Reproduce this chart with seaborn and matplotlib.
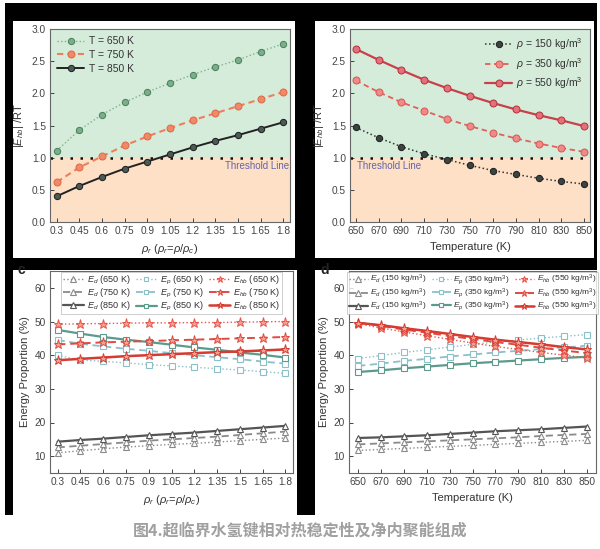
import numpy as np
import pandas as pd
import matplotlib
matplotlib.use("Agg")
import matplotlib.pyplot as plt
from matplotlib.patches import Rectangle
import seaborn as sns

# 데이터
rho_r = [0.3, 0.45, 0.6, 0.75, 0.9, 1.05, 1.2, 1.35, 1.5, 1.65, 1.8]
rho_r_ticks = ['0.3', '0.45', '0.6', '0.75', '0.9', '1.05', '1.2', '1.35', '1.5', '1.65', '1.8']
temps = [650, 670, 690, 710, 730, 750, 770, 790, 810, 830, 850]

# (a) |E_hb|/RT vs rho_r
a_650 = [1.11, 1.43, 1.67, 1.86, 2.02, 2.16, 2.29, 2.41, 2.52, 2.65, 2.77]
a_750 = [0.62, 0.85, 1.02, 1.19, 1.33, 1.46, 1.58, 1.69, 1.80, 1.91, 2.02]
a_850 = [0.40, 0.56, 0.70, 0.83, 0.94, 1.05, 1.16, 1.26, 1.35, 1.45, 1.55]

# (b) |E_hb|/RT vs T
b_150 = [1.47, 1.31, 1.17, 1.06, 0.97, 0.88, 0.80, 0.74, 0.68, 0.63, 0.59]
b_350 = [2.20, 2.02, 1.86, 1.73, 1.60, 1.49, 1.39, 1.30, 1.22, 1.15, 1.09]
b_550 = [2.69, 2.52, 2.36, 2.21, 2.08, 1.96, 1.85, 1.75, 1.66, 1.58, 1.49]

# (c) energy proportion vs rho_r
c_ed = {
    '650': [11.0, 11.6, 12.2, 12.7, 13.1, 13.5, 13.8, 14.2, 14.6, 15.0, 15.4],
    '750': [12.6, 13.1, 13.6, 14.1, 14.6, 15.0, 15.4, 15.8, 16.3, 16.8, 17.3],
    '850': [14.3, 14.8, 15.2, 15.7, 16.2, 16.6, 17.0, 17.5, 18.0, 18.5, 19.0],
}
c_ep = {
    '650': [40.0, 38.5, 38.2, 37.7, 37.2, 36.8, 36.4, 36.0, 35.6, 35.1, 34.6],
    '750': [44.5, 43.4, 42.6, 41.9, 41.3, 40.6, 40.0, 39.4, 38.8, 38.1, 37.5],
    '850': [47.5, 46.4, 45.4, 44.6, 43.9, 43.1, 42.3, 41.6, 40.8, 40.1, 39.3],
}
c_ehb = {
    '650': [49.2, 49.3, 49.4, 49.5, 49.6, 49.6, 49.7, 49.7, 49.8, 49.9, 50.0],
    '750': [43.2, 43.5, 43.8, 44.0, 44.2, 44.4, 44.6, 44.8, 45.0, 45.2, 45.4],
    '850': [38.5, 38.9, 39.3, 39.7, 40.0, 40.3, 40.6, 40.9, 41.1, 41.4, 41.7],
}

# (d) energy proportion vs T
d_ed = {
    '150': [11.7, 12.0, 12.3, 12.6, 12.9, 13.2, 13.5, 13.8, 14.1, 14.4, 14.7],
    '350': [13.5, 13.8, 14.1, 14.4, 14.7, 15.0, 15.3, 15.6, 16.0, 16.3, 16.6],
    '550': [15.4, 15.6, 15.9, 16.2, 16.6, 17.0, 17.4, 17.7, 18.0, 18.4, 18.8],
}
d_ep = {
    '150': [39.0, 39.9, 40.8, 41.6, 42.4, 43.2, 43.9, 44.5, 45.1, 45.6, 46.1],
    '350': [36.8, 37.5, 38.3, 38.9, 39.6, 40.2, 40.8, 41.3, 41.8, 42.3, 42.8],
    '550': [35.0, 35.5, 36.1, 36.6, 37.1, 37.6, 38.0, 38.4, 38.8, 39.2, 39.5],
}
d_ehb = {
    '150': [49.3, 48.1, 46.9, 45.8, 44.7, 43.6, 42.6, 41.7, 40.8, 40.0, 39.2],
    '350': [49.7, 48.7, 47.6, 46.7, 45.7, 44.8, 43.9, 43.1, 42.2, 41.4, 40.6],
    '550': [49.6, 48.9, 48.0, 47.2, 46.3, 45.4, 44.6, 43.9, 43.2, 42.4, 41.7],
}

caption = '图4.超临界水氢键相对热稳定性及净内聚能组成'

# 스타일
sns.set_style('ticks')
plt.rcParams['font.family'] = ['Liberation Sans', 'DejaVu Sans']
plt.rcParams['mathtext.fontset'] = 'custom'
plt.rcParams['mathtext.rm'] = 'Liberation Sans'
plt.rcParams['mathtext.it'] = 'Liberation Sans:italic'
plt.rcParams['text.color'] = '#333333'
plt.rcParams['axes.labelcolor'] = '#333333'
plt.rcParams['xtick.color'] = '#444444'
plt.rcParams['ytick.color'] = '#444444'

W, H = 600, 549
fig = plt.figure(figsize=(6.0, 5.49), dpi=100)
fig.patch.set_facecolor('white')


def px_rect(x0, y0, x1, y1):
    # pixel box (top-left origin) -> figure fraction [l, b, w, h]
    return [x0 / W, 1 - y1 / H, (x1 - x0) / W, (y1 - y0) / H]


def add_box(x0, y0, x1, y1, color, z):
    l, b, w, h = px_rect(x0, y0, x1, y1)
    fig.add_artist(Rectangle((l, b), w, h, transform=fig.transFigure,
                             facecolor=color, edgecolor='none', zorder=z))


# 검은 테두리 + 흰 패널
add_box(5, 3, 597, 515, 'black', -10)
add_box(13, 21, 295, 258, 'white', -9)
add_box(315, 21, 594, 258, 'white', -9)
add_box(13, 270, 297, 515, 'white', -9)
add_box(315, 270, 597, 515, 'white', -9)

ax_a = fig.add_axes(px_rect(50, 29, 290, 222))
ax_b = fig.add_axes(px_rect(350, 29, 590, 222))
ax_c = fig.add_axes(px_rect(50, 271, 293, 473))
ax_d = fig.add_axes(px_rect(349, 271, 596, 473))

for ax in [ax_a, ax_b, ax_c, ax_d]:
    for s in ax.spines.values():
        s.set_color('#666666')
        s.set_linewidth(0.8)
    ax.tick_params(direction='in', length=3, width=0.7, labelsize=7.3, pad=3)

green_bg = '#d5ecda'
peach_bg = '#fde0c6'
thr_col = '#6464a8'

# (a)
ax_a.axhspan(1.0, 3.0, color=green_bg, zorder=0, lw=0)
ax_a.axhspan(0.0, 1.0, color=peach_bg, zorder=0, lw=0)
sns.lineplot(x=rho_r, y=a_650, ax=ax_a, color='#7cb38c', linestyle=':', lw=1.0,
             marker='o', markersize=4.5, markerfacecolor='#79b08a', markeredgecolor='#4f8060',
             label='T = 650 K')
sns.lineplot(x=rho_r, y=a_750, ax=ax_a, color='#ef7e5c', linestyle=(0, (3, 2)), lw=1.5,
             marker='o', markersize=5, markerfacecolor='#f08a66', markeredgecolor='#e06a48',
             label='T = 750 K')
sns.lineplot(x=rho_r, y=a_850, ax=ax_a, color='#222222', linestyle='-', lw=1.4,
             marker='o', markersize=4.5, markerfacecolor='#4a5a55', markeredgecolor='#222222',
             label='T = 850 K')
ax_a.axhline(1.0, color='#111111', linestyle=(0, (1, 3)), lw=1.8, zorder=1)
ax_a.text(1.84, 0.95, 'Threshold Line', color=thr_col, fontsize=7, ha='right', va='top')
ax_a.set_xlim(0.255, 1.845)
ax_a.set_ylim(0, 3.0)
ax_a.set_xticks(rho_r)
ax_a.set_xticklabels(rho_r_ticks)
ax_a.set_yticks([0.0, 0.5, 1.0, 1.5, 2.0, 2.5, 3.0])
ax_a.set_yticklabels(['0.0', '0.5', '1.0', '1.5', '2.0', '2.5', '3.0'])
ax_a.set_xlabel(r'$\rho_r$ ($\rho_r$=$\rho$/$\rho_c$)', fontsize=8, labelpad=4)
ax_a.set_ylabel(r'$|E_{hb}|$ /RT', fontsize=8, labelpad=4)
ax_a.legend(loc='upper left', frameon=False, fontsize=7.5, handlelength=2.6,
            borderaxespad=0.3, labelspacing=0.35, handletextpad=0.4)

# (b)
ax_b.axhspan(1.0, 3.0, color=green_bg, zorder=0, lw=0)
ax_b.axhspan(0.0, 1.0, color=peach_bg, zorder=0, lw=0)
sns.lineplot(x=temps, y=b_150, ax=ax_b, color='#333333', linestyle=':', lw=1.1,
             marker='o', markersize=4.5, markerfacecolor='#3a4440', markeredgecolor='#222222',
             label=r'$\rho$ = 150 kg/m$^3$')
sns.lineplot(x=temps, y=b_350, ax=ax_b, color='#e0605e', linestyle=(0, (3, 2)), lw=1.3,
             marker='o', markersize=5, markerfacecolor='#f08a86', markeredgecolor='#d85a58',
             label=r'$\rho$ = 350 kg/m$^3$')
sns.lineplot(x=temps, y=b_550, ax=ax_b, color='#c8404a', linestyle='-', lw=1.6,
             marker='o', markersize=5, markerfacecolor='#e4707a', markeredgecolor='#b83440',
             label=r'$\rho$ = 550 kg/m$^3$')
ax_b.axhline(1.0, color='#111111', linestyle=(0, (1, 3)), lw=1.8, zorder=1)
ax_b.text(651, 0.95, 'Threshold Line', color=thr_col, fontsize=7, ha='left', va='top')
ax_b.set_xlim(645, 855)
ax_b.set_ylim(0, 3.0)
ax_b.set_xticks(temps)
ax_b.set_yticks([0.0, 0.5, 1.0, 1.5, 2.0, 2.5, 3.0])
ax_b.set_yticklabels(['0.0', '0.5', '1.0', '1.5', '2.0', '2.5', '3.0'])
ax_b.set_xlabel('Temperature (K)', fontsize=8, labelpad=4)
ax_b.set_ylabel(r'$|E_{hb}|$ /RT', fontsize=8, labelpad=4)
ax_b.legend(loc='upper right', frameon=False, fontsize=7.5, handlelength=2.6,
            borderaxespad=0.3, labelspacing=0.35, handletextpad=0.4)

# (c), (d) 공통
styles = [':', (0, (4, 2.5)), '-']
ed_cols = ['#8a8a8a', '#8a8a8a', '#555555']
ep_cols = ['#8cc0c8', '#8cc0c8', '#5c9a8c']
ehb_cols = ['#e8564c', '#e04a40', '#d63a30']


def energy_panel(ax, xs, ed, ep, ehb, keys, lab_d, lab_p, lab_hb, fs):
    for i, k in enumerate(keys):
        sns.lineplot(x=xs, y=ed[k], ax=ax, color=ed_cols[i], linestyle=styles[i], lw=1.0 + 0.3 * i,
                     marker='^', markersize=5, markerfacecolor='white',
                     markeredgecolor=ed_cols[i], markeredgewidth=0.8, label=lab_d[i])
    for i, k in enumerate(keys):
        sns.lineplot(x=xs, y=ep[k], ax=ax, color=ep_cols[i], linestyle=styles[i], lw=1.0 + 0.3 * i,
                     marker='s', markersize=4.5, markerfacecolor='white',
                     markeredgecolor=ep_cols[i], markeredgewidth=0.8, label=lab_p[i])
    for i, k in enumerate(keys):
        sns.lineplot(x=xs, y=ehb[k], ax=ax, color=ehb_cols[i], linestyle=styles[i], lw=1.0 + 0.4 * i,
                     marker='*', markersize=6.5, markerfacecolor='#f4a090',
                     markeredgecolor=ehb_cols[i], markeredgewidth=0.7, label=lab_hb[i])
    ax.set_ylim(5, 65)
    ax.set_yticks([10, 20, 30, 40, 50, 60])
    ax.set_ylabel('Energy Proportion (%)', fontsize=8, labelpad=3)
    leg = ax.legend(loc='upper center', ncol=3, frameon=True, fontsize=fs, handlelength=2.3,
                    borderaxespad=0.1, labelspacing=0.0, handletextpad=0.3, columnspacing=0.6,
                    markerscale=0.75, handleheight=0.5,
                    edgecolor='#aaaaaa', fancybox=False, borderpad=0.15)
    leg.get_frame().set_linewidth(0.5)


lab_c_d = [r'$E_d$ (650 K)', r'$E_d$ (750 K)', r'$E_d$ (850 K)']
lab_c_p = [r'$E_p$ (650 K)', r'$E_p$ (750 K)', r'$E_p$ (850 K)']
lab_c_hb = [r'$E_{hb}$ (650 K)', r'$E_{hb}$ (750 K)', r'$E_{hb}$ (850 K)']
energy_panel(ax_c, rho_r, c_ed, c_ep, c_ehb, ['650', '750', '850'], lab_c_d, lab_c_p, lab_c_hb, 6.6)
ax_c.set_xlim(0.25, 1.85)
ax_c.set_xticks(rho_r)
ax_c.set_xticklabels(rho_r_ticks)
ax_c.set_xlabel(r'$\rho_r$ ($\rho_r$=$\rho$/$\rho_c$)', fontsize=8, labelpad=4)

lab_d_d = [r'$E_d$ (150 kg/m$^3$)'] * 3
lab_d_p = [r'$E_p$ (350 kg/m$^3$)'] * 3
lab_d_hb = [r'$E_{hb}$ (550 kg/m$^3$)'] * 3
energy_panel(ax_d, temps, d_ed, d_ep, d_ehb, ['150', '350', '550'], lab_d_d, lab_d_p, lab_d_hb, 6.0)
ax_d.set_xlim(642, 858)
ax_d.set_xticks(temps)
ax_d.set_xlabel('Temperature (K)', fontsize=8, labelpad=4)

# 패널 라벨 (검은 띠에 대부분 가려짐)
fig.text(18 / W, 1 - 274 / H, 'c', fontsize=10, fontweight='bold', color='#222222', zorder=-5)
fig.text(320 / W, 1 - 274 / H, 'd', fontsize=10, fontweight='bold', color='#222222', zorder=-5)

# 캡션
fig.text(0.5, 1 - 531 / H, caption, ha='center', va='center', fontsize=11.5,
         fontweight='bold', color='#a0a0a0', family=['Noto Sans CJK SC', 'DejaVu Sans'])

fig.savefig('out.png', dpi=100, facecolor='white')
